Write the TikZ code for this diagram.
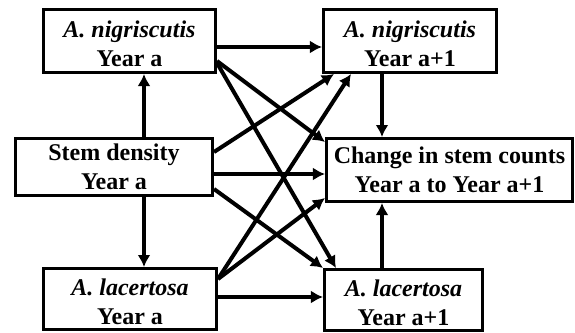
\documentclass[tikz,border=0pt]{standalone}
\usepackage{fontspec}
\setmainfont{Liberation Serif}
\usetikzlibrary{arrows.meta,positioning,calc}
\newcommand{\upgap}{\rule{0pt}{11.5pt}}
\tikzset{
block/.style = {draw, fill=white, rectangle, line width=1.5pt, inner sep=0pt, align=center,
                font=\fontsize{12}{14.6}\selectfont\bfseries},
tmp/.style   = {coordinate},
link/.style  = {->, line width=2pt}
}

\begin{document}
\begin{tikzpicture}[x=0.5pt, y=-0.5pt, >={Latex[length=6pt,width=6.5pt]}]
  \useasboundingbox (0,0) rectangle (575,333);

  \node [block, minimum width=86pt, minimum height=31.5pt]   (nigya)  at (129.5,41) {\upgap\textit{A. nigriscutis}\\Year a};
  \node [block, minimum width=98.5pt, minimum height=28.5pt] (stem)   at (114,167)  {Stem density\\Year a};
  \node [block, minimum width=86.5pt, minimum height=30.5pt] (lacya)  at (130,299)  {\upgap\textit{A. lacertosa}\\Year a};
  \node [block, minimum width=86.5pt, minimum height=31.5pt] (nigyb)  at (410,41)   {\upgap\textit{A. nigriscutis}\\Year a+1};
  \node [block, minimum width=123pt, minimum height=31.5pt]  (change) at (449.5,170) {Change in stem counts\\Year a to Year a+1};
  \node [block, minimum width=79pt, minimum height=30.5pt]   (lacyb)  at (403.5,300) {\upgap\textit{A. lacertosa}\\Year a+1};

  \node [tmp] (lcol) at (144,0) {};
  \node [tmp] (rcol) at (382,0) {};

  % vertical links
  \draw [link] (stem.north -| lcol) -- (nigya.south -| lcol);
  \draw [link] (stem.south -| lcol) -- (lacya.north -| lcol);
  \draw [link] (nigyb.south -| rcol) -- (change.north -| rcol);
  \draw [link] (lacyb.north -| rcol) -- (change.south -| rcol);

  % straight across
  \draw [link] ($(nigya.east)+(0,6)$) -- ($(nigyb.west)+(0,6)$);
  \draw [link] ($(stem.east)+(0,7)$) coordinate (h2) -- (h2 -| change.west);
  \draw [link] ($(lacya.east)+(0,-2)$) coordinate (h3) -- (h3 -| lacyb.west);

  % crossing links
  \draw [link] ($(nigya.south east)+(0,-13)$) -- ($(change.north west)+(0,5)$);
  \draw [link] ($(nigya.south east)+(0,-11)$) -- ($(lacyb.north west)+(13,0)$);
  \draw [link] ($(stem.north east)+(0,15)$) -- ($(nigyb.south west)+(12,0)$);
  \draw [link] ($(stem.south east)+(0,-8)$) -- (lacyb.north west);
  \draw [link] ($(lacya.north east)+(0,12)$) -- ($(nigyb.south west)+(29,0)$);
  \draw [link] ($(lacya.north east)+(0,12)$) -- ($(change.south west)+(0,-5)$);
\end{tikzpicture}
\end{document}
